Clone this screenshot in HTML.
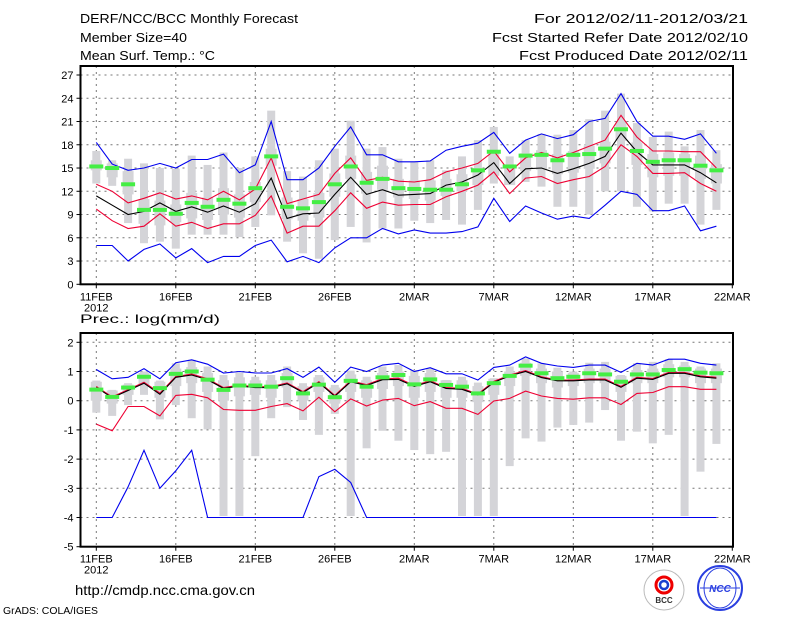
<!DOCTYPE html>
<html><head><meta charset="utf-8"><style>
html,body{margin:0;padding:0;background:#fff;}
svg{display:block;font-family:"Liberation Sans",sans-serif;}
</style></head><body>
<svg id="chart" width="800" height="618" viewBox="0 0 800 618" xmlns="http://www.w3.org/2000/svg">
<g font-size="13" fill="#000">
<text x="80" y="23" textLength="218" lengthAdjust="spacingAndGlyphs">DERF/NCC/BCC Monthly Forecast</text>
<text x="80" y="42" textLength="107" lengthAdjust="spacingAndGlyphs">Member Size=40</text>
<text x="80" y="60" textLength="135" lengthAdjust="spacingAndGlyphs">Mean Surf. Temp.: °C</text>
<text x="748" y="23" text-anchor="end" textLength="214" lengthAdjust="spacingAndGlyphs">For 2012/02/11-2012/03/21</text>
<text x="748" y="42" text-anchor="end" textLength="256" lengthAdjust="spacingAndGlyphs">Fcst Started Refer Date 2012/02/10</text>
<text x="748" y="60" text-anchor="end" textLength="229" lengthAdjust="spacingAndGlyphs">Fcst Produced Date 2012/02/11</text>
<text x="80" y="323" font-size="12" textLength="140" lengthAdjust="spacingAndGlyphs">Prec.: log(mm/d)</text>
<text x="75" y="595" font-size="14" textLength="180" lengthAdjust="spacingAndGlyphs">http://cmdp.ncc.cma.gov.cn</text>
<text x="3" y="614" font-size="10" textLength="95" lengthAdjust="spacingAndGlyphs">GrADS: COLA/IGES</text>
</g>
<g>
<circle cx="664" cy="590" r="20" fill="#fff" stroke="#bbb" stroke-width="1"/>
<circle cx="664" cy="585" r="8" fill="none" stroke="#e00" stroke-width="3"/>
<circle cx="664" cy="585" r="4" fill="none" stroke="#1a3fd0" stroke-width="2.5"/>
<text x="664" y="603" font-size="8" text-anchor="middle" font-weight="bold" fill="#333">BCC</text>
</g>
<g>
<circle cx="720" cy="588" r="22" fill="#fff" stroke="#2a3fe0" stroke-width="2"/>
<ellipse cx="720" cy="588" rx="16" ry="20" fill="none" stroke="#2a3fe0" stroke-width="1"/>
<line x1="700" y1="588" x2="740" y2="588" stroke="#2a3fe0"/>
<text x="720" y="592" font-size="10" text-anchor="middle" font-style="italic" font-weight="bold" fill="#2a3fe0">NCC</text>
</g>
<g id="plots"></g>
</svg>
<script>
// ---------- data ----------
const dateLabels = ["11FEB","16FEB","21FEB","26FEB","2MAR","7MAR","12MAR","17MAR","22MAR"];
const tTicks = [0,3,6,9,12,15,18,21,24,27];
const pTicks = [-5,-4,-3,-2,-1,0,1,2];
// temperature
const tMax   = [18.3,15.5,14.7,15.0,15.6,15.0,16.1,16.1,16.8,14.4,15.4,21.0,13.5,13.5,15.0,17.8,20.3,16.7,16.7,15.8,15.8,15.9,17.3,17.8,18.2,19.6,16.9,18.6,19.4,18.8,19.3,21.0,21.4,24.6,21.0,19.1,19.1,18.7,19.4,16.9];
const tUp    = [12.9,12.0,10.5,11.1,11.8,11.0,11.4,10.9,12.0,10.9,12.3,16.3,10.4,11.0,11.6,14.3,16.3,13.4,13.8,13.3,13.2,13.5,14.5,15.0,15.6,17.2,14.5,16.3,17.0,16.3,17.0,17.8,18.6,21.8,19.0,17.2,17.2,17.1,17.1,15.0];
const tMean  = [11.4,10.2,9.0,9.4,10.5,9.4,10.0,9.3,10.1,9.3,10.4,13.7,8.5,9.1,9.2,11.6,13.8,11.6,12.2,11.5,11.6,11.7,12.8,13.2,14.1,15.7,13.0,14.9,15.0,14.3,14.9,15.6,16.5,19.5,17.1,15.4,15.4,15.4,14.4,13.1];
const tLow   = [9.7,8.2,7.2,7.5,9.1,7.5,8.0,7.2,7.8,7.8,8.9,11.4,6.6,7.5,7.5,9.5,11.8,9.8,10.6,10.2,10.3,10.3,11.3,12.0,12.8,14.5,11.7,13.7,13.9,13.0,13.5,13.9,15.2,18.0,16.5,14.3,14.3,14.4,13.0,12.0];
const tMin   = [5.0,5.0,3.0,4.5,5.2,3.4,4.6,2.8,3.6,3.6,5.0,5.7,2.9,3.6,2.8,4.7,6.0,6.0,7.2,6.5,7.0,6.6,6.6,6.8,7.4,11.1,8.1,10.1,9.2,8.4,8.8,8.5,10.2,12.0,11.6,9.5,9.5,10.1,6.9,7.5];
const tMark  = [15.2,15.0,12.9,9.6,9.6,9.1,10.5,10.0,10.9,10.4,12.4,16.5,10.0,9.8,10.6,12.9,15.2,13.1,13.6,12.4,12.3,12.2,12.2,12.9,14.7,17.1,15.2,16.6,16.7,16.0,16.7,16.8,17.5,20.0,17.2,15.8,16.0,16.0,15.3,14.7];
const tBarHi = [17.2,16.0,16.2,15.6,15.0,14.9,16.6,15.4,17.0,15.0,16.5,22.4,14.6,13.9,16.0,17.5,21.1,17.5,17.7,16.2,15.8,16.0,14.7,16.5,18.6,20.3,16.5,18.6,19.4,19.3,19.9,21.3,22.4,24.6,20.8,19.0,19.7,17.8,19.9,17.3];
const tBarLo = [13.0,12.7,7.9,5.3,5.5,4.6,6.4,6.4,6.4,6.1,7.4,8.9,5.5,4.0,3.3,5.7,7.4,5.4,7.2,7.2,8.2,7.9,8.3,7.7,9.6,13.0,13.2,13.2,12.6,10.0,10.0,9.0,12.0,12.0,10.0,9.4,10.4,10.4,7.7,9.6];
const tBoxHi = [16.0,15.6,14.6,11.0,10.8,10.3,11.8,11.2,12.4,11.6,13.2,17.5,11.2,11.0,11.8,14.3,16.6,14.5,15.3,13.6,13.4,13.4,13.6,14.2,15.0,16.9,15.0,16.9,17.3,16.8,17.2,17.9,18.4,21.0,18.3,16.8,17.0,16.8,16.6,15.5];
const tBoxLo = [14.7,13.8,11.6,7.8,7.6,8.0,8.5,8.3,9.0,8.6,10.6,15.3,8.4,8.2,8.6,11.3,13.6,11.7,12.2,11.2,11.0,10.8,11.4,12.0,12.8,14.0,12.8,14.6,14.8,14.2,14.4,14.9,15.6,18.5,15.4,13.8,14.0,14.0,13.6,13.0];
// precipitation
const pMax   = [1.07,0.75,0.8,1.1,0.75,1.3,1.4,1.25,0.95,1.0,0.95,0.95,1.1,0.8,1.15,0.63,1.15,1.0,1.22,1.28,1.0,1.13,0.92,0.92,0.71,1.14,1.22,1.5,1.28,1.19,1.14,1.22,1.22,0.97,1.28,1.22,1.42,1.42,1.28,1.22];
const pUp    = [0.49,0.13,0.38,0.63,0.26,0.83,0.91,0.75,0.45,0.53,0.48,0.48,0.61,0.31,0.65,0.18,0.68,0.55,0.75,0.77,0.52,0.68,0.45,0.42,0.23,0.66,0.88,1.03,0.82,0.71,0.71,0.74,0.74,0.49,0.8,0.76,0.97,0.97,0.85,0.8];
const pMean  = [0.46,0.1,0.35,0.6,0.22,0.8,0.88,0.72,0.42,0.5,0.45,0.45,0.58,0.28,0.62,0.15,0.65,0.52,0.72,0.73,0.49,0.65,0.42,0.39,0.2,0.63,0.85,1.0,0.79,0.68,0.68,0.71,0.71,0.46,0.77,0.73,0.94,0.94,0.82,0.77];
const pLow   = [-0.8,-1.03,-0.2,-0.2,-0.52,0.18,0.22,0.1,-0.3,-0.33,-0.33,-0.2,-0.1,-0.35,0.12,-0.38,0.06,-0.18,0.02,0.08,-0.17,-0.03,-0.26,-0.26,-0.47,-0.01,0.08,0.33,0.16,0.08,0.05,0.1,0.1,-0.13,0.25,0.28,0.48,0.48,0.39,0.39];
const pMin   = [-4,-4,-2.95,-1.7,-3.0,-2.4,-1.7,-4,-4,-4,-4,-4,-4,-4,-2.6,-2.35,-2.8,-4,-4,-4,-4,-4,-4,-4,-4,-4,-4,-4,-4,-4,-4,-4,-4,-4,-4,-4,-4,-4,-4,-4];
const pMark  = [0.38,0.13,0.45,0.82,0.43,0.92,1.0,0.72,0.37,0.52,0.52,0.48,0.77,0.25,0.55,0.12,0.68,0.48,0.8,0.88,0.56,0.73,0.54,0.48,0.25,0.6,0.85,1.2,0.94,0.77,0.82,0.94,0.9,0.65,0.9,0.9,1.05,1.08,0.96,0.94];
const pBarHi = [0.69,0.37,0.6,1.0,0.69,1.28,1.4,1.17,0.88,0.96,0.82,0.88,1.17,0.6,0.88,0.54,1.03,0.82,1.17,1.22,1.05,1.1,0.71,0.82,0.62,0.77,1.17,1.45,1.28,1.13,1.0,1.3,1.33,0.88,1.28,1.33,1.42,1.33,1.17,1.28];
const pBarLo = [-0.41,-0.52,-0.15,0.2,-0.64,-0.15,-0.6,-0.98,-3.95,-3.95,-1.9,-0.6,-0.22,-0.66,-1.17,-0.45,-3.95,-1.63,-1.03,-1.37,-1.69,-1.83,-1.75,-3.95,-3.95,-3.95,-2.24,-1.29,-1.4,-0.92,-0.83,-0.75,-0.32,-1.37,-1.06,-1.46,-1.17,-3.95,-2.43,-1.48];
const pBoxHi = [0.65,0.35,0.55,0.95,0.65,1.1,1.15,0.95,0.7,0.8,0.7,0.7,0.95,0.5,0.8,0.45,0.9,0.7,0.95,1.0,0.85,0.95,0.7,0.7,0.5,0.75,1.0,1.3,1.1,1.0,0.95,1.1,1.1,0.85,1.05,1.1,1.25,1.2,1.1,1.1];
const pBoxLo = [0.0,-0.1,0.2,0.55,0.1,0.5,0.6,0.3,0.0,0.15,0.2,0.1,0.45,0.0,0.3,-0.1,0.3,0.1,0.4,0.5,0.1,0.3,0.1,0.1,-0.05,0.2,0.5,0.85,0.6,0.45,0.5,0.6,0.6,0.3,0.6,0.6,0.8,0.8,0.6,0.6];

// ---------- geometry ----------
const NS = "http://www.w3.org/2000/svg";
const root = document.getElementById("plots");
const X0 = 80.5, X1 = 733, D0 = 96.3, DW = 15.9;
function xDay(d){ return D0 + d*DW; }
// frameTop = box top; yTop = pixel of vmax; y1 = pixel of vmin (box bottom)
const topP = {frameTop:66, yTop:75, y1:284.3, vmin:0, vmax:27, ticks:tTicks, name:"temperature"};
const botP = {frameTop:333, yTop:342.3, y1:546.7, vmin:-5, vmax:2, ticks:pTicks, name:"precipitation"};
function yScale(p, v){ return p.y1 - (v - p.vmin)/(p.vmax - p.vmin)*(p.y1 - p.yTop); }
function mk(tag, attrs, parent){
  const e = document.createElementNS(NS, tag);
  for (const k in attrs) e.setAttribute(k, attrs[k]);
  (parent||root).appendChild(e);
  return e;
}

function drawPanel(p, s){
  const g = mk("g", {});
  
  
  for (let i=0;i<p.ticks.length;i++){
    const y = yScale(p, p.ticks[i]);
    const gl = mk("line", {x1:X0, x2:X1, y1:y, y2:y, stroke:"#777", "stroke-width":1, "stroke-dasharray":"2,4"}, g);
    
    
    const tk = mk("line", {x1:X0-4, x2:X0, y1:y, y2:y, stroke:"#000"}, g);
    
    
    const t = mk("text", {x:X0-7, y:y+4, "font-size":11, "text-anchor":"end"}, g);
    t.textContent = p.ticks[i];
    
    
  }
  for (let i=0;i<dateLabels.length;i++){
    const x = xDay(i*5);
    if (i < dateLabels.length-1){
      const gl = mk("line", {x1:x, x2:x, y1:p.frameTop, y2:p.y1, stroke:"#777", "stroke-width":1, "stroke-dasharray":"2,4"}, g);
      
      
    }
    const tk = mk("line", {x1:x, x2:x, y1:p.y1, y2:p.y1+4, stroke:"#000"}, g);
    
    
    const t = mk("text", {x:x, y:p.y1+16, "font-size":11, "text-anchor":"middle"}, g);
    t.textContent = dateLabels[i];
    
    
  }
  const yr = mk("text", {x:xDay(0), y:p.y1+27, "font-size":11, "text-anchor":"middle"}, g);
  yr.textContent = "2012";
  
  
  for (let d=0; d<s.barHi.length; d++){
    const x = xDay(d);
    const b = mk("rect", {x:x-4, y:yScale(p,s.barHi[d]), width:8, height:yScale(p,s.barLo[d])-yScale(p,s.barHi[d]), fill:"#d4d4d8"}, g);
    
    
    const bx = mk("rect", {x:x-5.5, y:yScale(p,s.boxHi[d]), width:11, height:yScale(p,s.boxLo[d])-yScale(p,s.boxHi[d]), fill:"#d4d4d8"}, g);
    
    
  }
  const lines = [[s.max,"#0000ee","max-line"],[s.min,"#0000ee","min-line"],[s.up,"#ee0033","upper-sd-line"],[s.low,"#ee0033","lower-sd-line"],[s.mean,"#000","mean-line"]];
  for (const L of lines){
    const pts = L[0].map((v,d)=> xDay(d).toFixed(1)+","+yScale(p,v).toFixed(1)).join(" ");
    const pl = mk("polyline", {points:pts, fill:"none", stroke:L[1], "stroke-width":1.1}, g);
    
    
  }
  for (let d=0; d<s.mark.length; d++){
    const m = mk("rect", {x:xDay(d)-7, y:yScale(p,s.mark[d])-2, width:14, height:4, fill:"#44ee44"}, g);
    
    
  }
  const fr = mk("rect", {x:X0, y:p.frameTop, width:X1-X0, height:p.y1-p.frameTop, fill:"none", stroke:"#000", "stroke-width":2}, g);
  
  
}
drawPanel(topP, {max:tMax, up:tUp, mean:tMean, low:tLow, min:tMin, mark:tMark, barHi:tBarHi, barLo:tBarLo, boxHi:tBoxHi, boxLo:tBoxLo});
drawPanel(botP, {max:pMax, up:pUp, mean:pMean, low:pLow, min:pMin, mark:pMark, barHi:pBarHi, barLo:pBarLo, boxHi:pBoxHi, boxLo:pBoxLo});
</script>
</body></html>
